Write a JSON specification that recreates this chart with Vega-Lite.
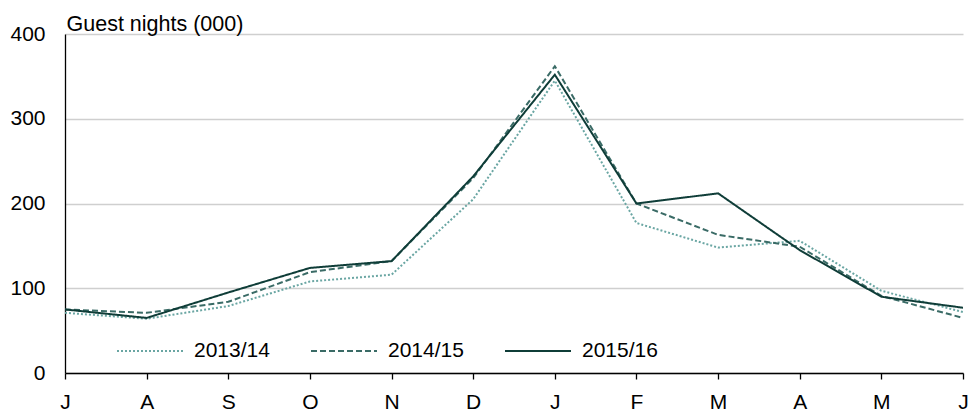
{
  "$schema": "https://vega.github.io/schema/vega-lite/v6.json",
  "width": 898,
  "height": 339,
  "autosize": {"type": "none"},
  "padding": {"left": 65, "top": 34, "right": 8, "bottom": 39},
  "background": "white",
  "config": {
    "view": {"stroke": null},
    "font": "Liberation Sans",
    "axis": {"labelFont": "Liberation Sans", "titleFont": "Liberation Sans", "labelColor": "#000000", "titleColor": "#000000", "labelFontSize": 21, "titleFontSize": 21.5, "titleFontWeight": "normal"},
    "legend": {"labelFont": "Liberation Sans", "labelFontSize": 21, "labelColor": "#000000"}
  },
  "data": {
    "values": [
      {"season": "2013/14", "m": 0, "month": "J", "nights": 71},
      {"season": "2013/14", "m": 1, "month": "A", "nights": 64},
      {"season": "2013/14", "m": 2, "month": "S", "nights": 79},
      {"season": "2013/14", "m": 3, "month": "O", "nights": 108},
      {"season": "2013/14", "m": 4, "month": "N", "nights": 116},
      {"season": "2013/14", "m": 5, "month": "D", "nights": 205},
      {"season": "2013/14", "m": 6, "month": "J", "nights": 345},
      {"season": "2013/14", "m": 7, "month": "F", "nights": 177},
      {"season": "2013/14", "m": 8, "month": "M", "nights": 148},
      {"season": "2013/14", "m": 9, "month": "A", "nights": 156},
      {"season": "2013/14", "m": 10, "month": "M", "nights": 97},
      {"season": "2013/14", "m": 11, "month": "J", "nights": 72},
      {"season": "2014/15", "m": 0, "month": "J", "nights": 75},
      {"season": "2014/15", "m": 1, "month": "A", "nights": 71},
      {"season": "2014/15", "m": 2, "month": "S", "nights": 84},
      {"season": "2014/15", "m": 3, "month": "O", "nights": 119},
      {"season": "2014/15", "m": 4, "month": "N", "nights": 132},
      {"season": "2014/15", "m": 5, "month": "D", "nights": 230},
      {"season": "2014/15", "m": 6, "month": "J", "nights": 362},
      {"season": "2014/15", "m": 7, "month": "F", "nights": 200},
      {"season": "2014/15", "m": 8, "month": "M", "nights": 163},
      {"season": "2014/15", "m": 9, "month": "A", "nights": 149},
      {"season": "2014/15", "m": 10, "month": "M", "nights": 91},
      {"season": "2014/15", "m": 11, "month": "J", "nights": 65},
      {"season": "2015/16", "m": 0, "month": "J", "nights": 75},
      {"season": "2015/16", "m": 1, "month": "A", "nights": 65},
      {"season": "2015/16", "m": 2, "month": "S", "nights": 95},
      {"season": "2015/16", "m": 3, "month": "O", "nights": 124},
      {"season": "2015/16", "m": 4, "month": "N", "nights": 132},
      {"season": "2015/16", "m": 5, "month": "D", "nights": 232},
      {"season": "2015/16", "m": 6, "month": "J", "nights": 352},
      {"season": "2015/16", "m": 7, "month": "F", "nights": 200},
      {"season": "2015/16", "m": 8, "month": "M", "nights": 212},
      {"season": "2015/16", "m": 9, "month": "A", "nights": 145},
      {"season": "2015/16", "m": 10, "month": "M", "nights": 90},
      {"season": "2015/16", "m": 11, "month": "J", "nights": 77}
    ]
  },
  "mark": {"type": "line", "strokeWidth": 2, "clip": false},
  "encoding": {
    "x": {
      "field": "m",
      "type": "quantitative",
      "scale": {"domain": [0, 11], "nice": false, "zero": false},
      "axis": {
        "title": null,
        "values": [0, 1, 2, 3, 4, 5, 6, 7, 8, 9, 10, 11],
        "labelExpr": "substring('JASONDJFMAMJ', datum.value, datum.value + 1)",
        "grid": false,
        "domainColor": "#000000",
        "domainWidth": 1.3,
        "tickColor": "#000000",
        "tickWidth": 1.3,
        "tickSize": 6,
        "labelPadding": 12,
        "labelFlush": false,
        "labelOverlap": false
      }
    },
    "y": {
      "field": "nights",
      "type": "quantitative",
      "scale": {"domain": [0, 400], "nice": false},
      "axis": {
        "title": "Guest nights (000)",
        "titleAngle": 0,
        "titleAlign": "left",
        "titleBaseline": "alphabetic",
        "titleX": 1,
        "titleY": -4,
        "values": [0, 100, 200, 300, 400],
        "ticks": false,
        "labelPadding": 20,
        "domainColor": "#000000",
        "domainWidth": 1.3,
        "gridColor": "#cfcfcf",
        "gridWidth": 1.5
      }
    },
    "color": {
      "field": "season",
      "type": "nominal",
      "scale": {"domain": ["2013/14", "2014/15", "2015/16"], "range": ["#6aa6a3", "#3a6b66", "#0f3d38"]},
      "legend": {
        "title": null,
        "orient": "none",
        "direction": "horizontal",
        "legendX": 51,
        "legendY": 283,
        "symbolType": "stroke",
        "symbolSize": 4356,
        "symbolStrokeWidth": 2,
        "labelOffset": 10,
        "columnPadding": 37
      }
    },
    "strokeDash": {
      "field": "season",
      "type": "nominal",
      "scale": {"domain": ["2013/14", "2014/15", "2015/16"], "range": [[2, 2], [6, 3], [1, 0]]},
      "legend": null
    }
  }
}
